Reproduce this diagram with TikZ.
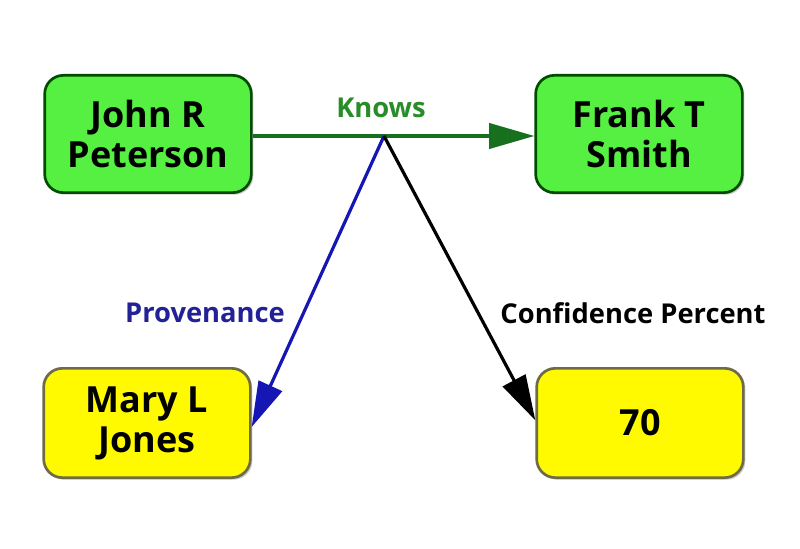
\documentclass[tikz,border=0pt]{standalone}
\usepackage{fontspec}
\setmainfont{Open Sans}
\usetikzlibrary{arrows.meta,shadows}

\definecolor{boxgreen}{RGB}{86,240,66}
\definecolor{boxyellow}{RGB}{255,250,0}
\definecolor{linkgreen}{RGB}{22,112,30}
\definecolor{textgreen}{RGB}{40,140,40}
\definecolor{linkblue}{RGB}{22,22,180}
\definecolor{textblue}{RGB}{34,34,150}

\tikzset{every picture/.style={line width=0.75pt}}
\tikzset{
  person/.style={rounded corners=14pt, align=center, font=\fontsize{27}{30}\selectfont\bfseries,
    minimum width=155pt, minimum height=88pt, line width=2pt,
    drop shadow={shadow xshift=1.5pt, shadow yshift=-1.5pt, opacity=0.4}},
  linklabel/.style={inner sep=0.75pt, font=\fontsize{20.5}{24}\selectfont\bfseries},
  link/.style={line width=2.4pt, -{Triangle[length=34pt,width=19pt]}}
}

\begin{document}
\begin{tikzpicture}[x=0.75pt,y=0.75pt,yscale=-1,xscale=1]
    \useasboundingbox (0,0) rectangle (800,549);
    \fill[white] (0,0) rectangle (800,549);

    % Boxes
    \node[person, fill=boxgreen, draw=green!30!black] (john) at (148,134) {John R\\Peterson};
    \node[person, fill=boxgreen, draw=green!30!black] (frank) at (639,134) {Frank T\\Smith};
    \node[person, fill=boxyellow, draw=yellow!35!black, minimum height=82pt] (mary) at (147,423) {Mary L\\Jones};
    \node[person, fill=boxyellow, draw=yellow!35!black, minimum height=82pt] (seventy) at (640,423) {70};

    % Links
    \coordinate (split) at (384,136);
    \draw[link, linkgreen] (john.east |- split) -- (frank.west |- split);
    \draw[link, linkblue] (split) -- ([yshift=3]mary.east);
    \draw[link, black] (split) -- ([yshift=-2]seventy.west);

    % Text Node
    \node[linklabel, textgreen] (knows) at (381,108) {Knows};
    % Text Node
    \node[linklabel, textblue] (prov) at (205,313) {Provenance};
    % Text Node
    \node[linklabel, black] (conf) at (633,313) {Confidence Percent};

\end{tikzpicture}
\end{document}
